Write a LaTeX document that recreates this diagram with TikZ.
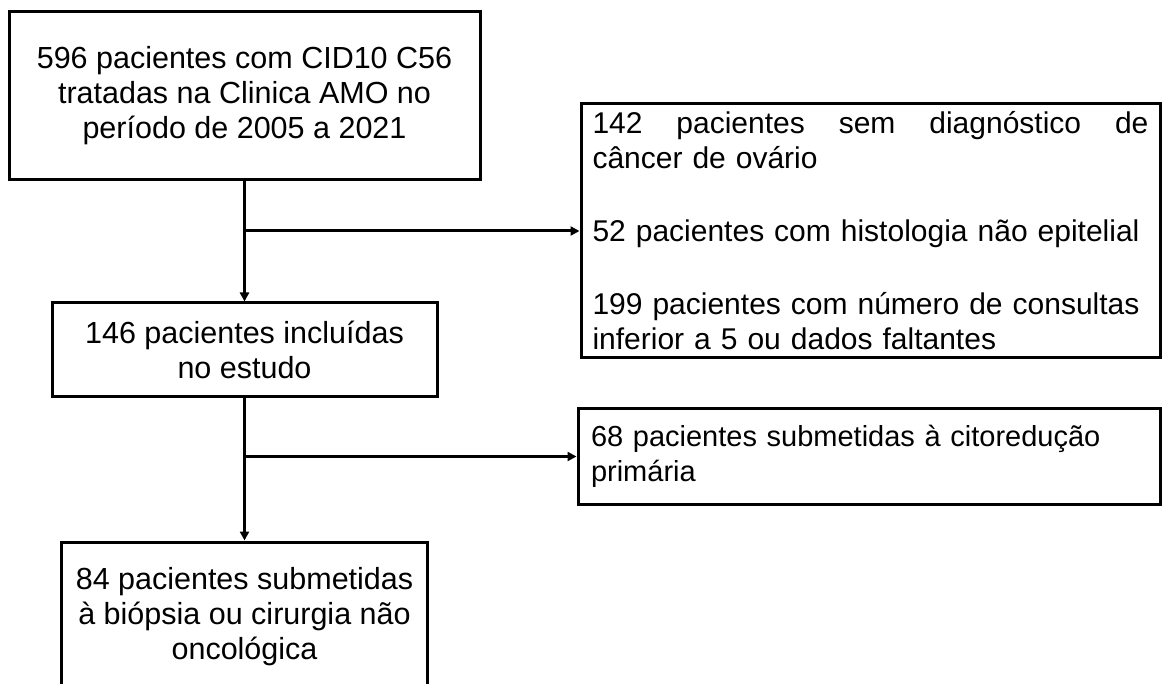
\documentclass[tikz,border=0pt]{standalone}
\usepackage{fontspec}
\setmainfont{Liberation Sans}
\usetikzlibrary{arrows.meta,calc}

\begin{document}
\begin{tikzpicture}[x=1pt,y=-1pt,
    caixa/.style={draw,line width=3pt,inner sep=0pt,font=\fontsize{30.5}{35}\selectfont},
    seta/.style={line width=3pt,-{Triangle[length=9pt,width=9pt]}}]
    \clip (0,0) rectangle (1162,684);
    \node[caixa,minimum width=471pt,minimum height=168pt,align=center] (total) at (244.5,96) {596 pacientes com CID10 C56\\tratadas na Clinica AMO no\\período de 2005 a 2021};
    \node[caixa,minimum width=385pt,minimum height=94pt,align=center] (incl) at (244.5,350) {146 pacientes incluídas\\no estudo};
    \node[caixa,minimum width=366pt,minimum height=150pt,align=center] (biop) at (244.5,617) {84 pacientes submetidas\\à biópsia ou cirurgia não\\oncológica};
    \node[caixa,font=\fontsize{30}{35}\selectfont,text width=556pt,inner xsep=11.5pt,minimum height=254pt,align=left] (excl) at (870.5,231) {\hbox to 556pt{142\hfill pacientes\hfill sem\hfill diagnóstico\hfill de}\\\mbox{câncer de ovário}\\[38pt]\mbox{52 pacientes com histologia não epitelial}\\[38pt]\mbox{199 pacientes com número de consultas}\\\mbox{inferior a 5 ou dados faltantes}};
    \node[caixa,font=\fontsize{29}{35}\selectfont,text width=556pt,inner xsep=13pt,minimum height=95pt,align=left] (cito) at (869,456.5) {\mbox{68 pacientes submetidas à citoredução}\\\mbox{primária}};
    \coordinate (j1) at (total.south |- excl.west);
    \coordinate (j2) at (incl.south |- cito.west);
    \draw[seta] (total.south) -- (incl.north);
    \draw[seta] (j1) -- (excl.west);
    \draw[seta] (incl.south) -- (biop.north);
    \draw[seta] (j2) -- (cito.west);
\end{tikzpicture}
\end{document}
